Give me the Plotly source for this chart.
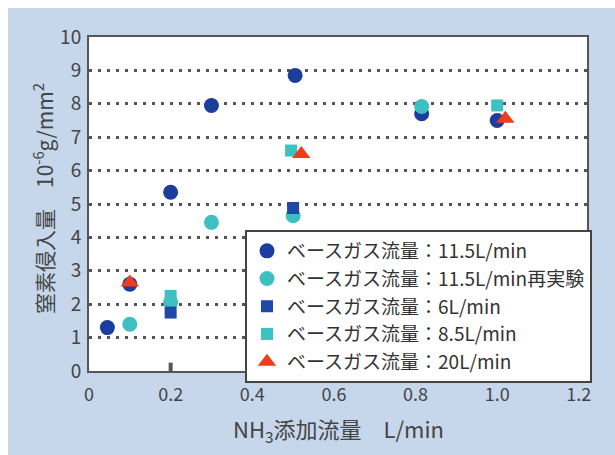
import plotly.graph_objects as go

# ---- data ----
series_names = [
    "ベースガス流量：11.5L/min",
    "ベースガス流量：11.5L/min再実験",
    "ベースガス流量：6L/min",
    "ベースガス流量：8.5L/min",
    "ベースガス流量：20L/min",
]
x_115 = [0.045, 0.1, 0.2, 0.3, 0.505, 0.815, 1.0]
y_115 = [1.3, 2.6, 5.35, 7.95, 8.85, 7.7, 7.5]
x_115r = [0.1, 0.2, 0.3, 0.5, 0.815]
y_115r = [1.4, 2.05, 4.45, 4.65, 7.92]
x_6 = [0.2, 0.5]
y_6 = [1.75, 4.88]
x_85 = [0.2, 0.495, 1.0]
y_85 = [2.25, 6.6, 7.95]
x_20 = [0.1, 0.52, 1.02]
y_20 = [2.65, 6.5, 7.55]

x_tickvals = [0, 0.2, 0.4, 0.6, 0.8, 1.0, 1.2]
x_ticktext = ["0", "0.2", "0.4", "0.6", "0.8", "1.0", "1.2"]
y_tickvals = list(range(0, 11))

x_title = "NH<sub>3</sub>添加流量　L/min"
y_title = "窒素侵入量　10<sup>-6</sup>g/mm<sup>2</sup>"

# ---- layout geometry ----
W, H = 615, 455
ML, MR, MT, MB = 89, 28, 37, 84
PW, PH = W - ML - MR, H - MT - MB


def px_x(p):
    return (p - ML) / PW


def px_y(p):
    return (H - MB - p) / PH


FONT = "Noto Sans CJK JP"
TXT = "#444444"

fig = go.Figure()

styles = [
    dict(symbol="circle", size=15, color="#1c3c9e"),
    dict(symbol="circle", size=15, color="#3fc0c0"),
    dict(symbol="square", size=12, color="#1f48a8"),
    dict(symbol="square", size=12, color="#3cc2c2"),
    dict(symbol="triangle-up", size=16, color="#f03c1c"),
]
xs = [x_115, x_115r, x_6, x_85, x_20]
ys = [y_115, y_115r, y_6, y_85, y_20]
for i, (name, sx, sy, st) in enumerate(zip(series_names, xs, ys, styles)):
    fig.add_trace(go.Scatter(
        x=sx, y=sy, mode="markers", name=name,
        marker=dict(symbol=st["symbol"], size=st["size"], color=st["color"],
                    line=dict(width=0)),
    ))

fig.update_layout(
    width=W, height=H,
    margin=dict(l=ML, r=MR, t=MT, b=MB, pad=0),
    paper_bgcolor="#c6d6eb",
    plot_bgcolor="#ffffff",
    font=dict(family=FONT, color=TXT, size=18),
    showlegend=True,
    legend=dict(
        x=px_x(245), y=px_y(230), xanchor="left", yanchor="top",
        bgcolor="#ffffff", bordercolor="#444444", borderwidth=2,
        font=dict(family=FONT, size=19, color="#333333"),
        itemwidth=30,
    ),
    xaxis=dict(
        range=[0, 1.22], tickvals=x_tickvals, ticktext=x_ticktext,
        showgrid=False, zeroline=False, showline=True, mirror=True,
        linecolor="#555555", linewidth=2, ticks="",
        tickfont=dict(size=18, color=TXT), ticklabelstandoff=6,
    ),
    yaxis=dict(
        range=[0, 10], tickvals=y_tickvals,
        showgrid=True, gridcolor="#555555", gridwidth=3, griddash="3px,6px",
        zeroline=False, showline=True, mirror=True,
        linecolor="#555555", linewidth=2, ticks="",
        tickfont=dict(size=19, color=TXT), ticklabelstandoff=2,
    ),
    annotations=[
        dict(text=x_title, xref="paper", yref="paper",
             x=px_x(338), y=px_y(430), xanchor="center", yanchor="middle",
             showarrow=False, font=dict(size=22, color=TXT)),
        dict(text=y_title, xref="paper", yref="paper", textangle=-90,
             x=px_x(43), y=px_y(199), xanchor="center", yanchor="middle",
             showarrow=False, font=dict(size=21, color=TXT)),
    ],
    shapes=[
        # white strips at top and left of the picture
        dict(type="rect", xref="paper", yref="paper", layer="below",
             x0=px_x(0), x1=px_x(W), y0=px_y(8), y1=px_y(0),
             fillcolor="#ffffff", line=dict(width=0)),
        dict(type="rect", xref="paper", yref="paper", layer="below",
             x0=px_x(0), x1=px_x(8), y0=px_y(H), y1=px_y(0),
             fillcolor="#ffffff", line=dict(width=0)),
        # small stray tick mark at x=0.2 on the bottom axis
        dict(type="line", xref="x", yref="y", x0=0.2, x1=0.2, y0=0, y1=0.25,
             line=dict(color="#555555", width=4)),
    ],
)

fig.write_html("out.html")
